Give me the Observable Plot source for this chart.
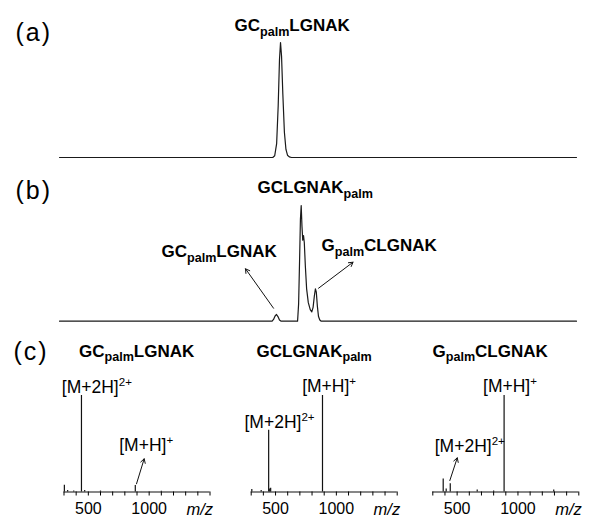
<!DOCTYPE html>
<html><head><meta charset="utf-8">
<script src="https://cdn.jsdelivr.net/npm/d3@7"></script>
<script src="https://cdn.jsdelivr.net/npm/@observablehq/plot@0.6"></script>
<style>
html,body{margin:0;padding:0;background:#fff;}
#fig{position:relative;width:600px;height:529px;overflow:hidden;}
#fig svg{position:absolute;}
</style></head><body><div id="fig"></div>
<script>
// ---------- DATA ----------
// (a) chromatogram: retention time (min) / relative intensity (%)
const timeA = [0, 16.50, 16.65, 16.80, 16.92, 17.02, 17.10, 17.18, 17.28, 17.40, 17.52, 17.64, 17.78, 17.95, 40];
const intA  = [0, 0, 1.5, 12, 45, 85, 100, 88, 55, 22, 7, 2, 0.5, 0, 0];
// (b) chromatogram
const timeB = [0, 16.45, 16.56, 16.68, 16.79, 16.90, 17.02, 17.15, 18.42, 18.50, 18.58, 18.64, 18.70, 18.76, 18.82, 18.88, 18.94, 19.02, 19.12, 19.25, 19.40, 19.52, 19.62, 19.72, 19.80, 19.87, 19.95, 20.04, 20.14, 20.25, 40];
const intB  = [0, 0, 1.5, 4.5, 5.8, 4, 1, 0, 0, 15, 55, 88, 100, 82, 70, 74, 68, 48, 28, 16, 10, 8, 12, 22, 28, 25, 13, 4, 1, 0, 0];
// labels
const labelsA = [{t: 13.54, v: 109.8, text: "GC_{palm}LGNAK"}];
const labelsB = [
  {t: 15.32, v: 110.4, text: "GCLGNAK_{palm}"},
  {t: 7.89,  v: 55.3,  text: "GC_{palm}LGNAK"},
  {t: 20.27, v: 60.5,  text: "G_{palm}CLGNAK"}
];
const arrowsB = [
  {x1: 16.56, y1: 11.2, x2: 14.39, y2: 45.3},
  {x1: 20.04, y1: 28.5, x2: 22.71, y2: 51.0}
];
// (c) mass spectra: m/z / relative intensity (%)
const mzC1  = [303, 330, 380, 443.5, 470, 600, 886, 1100];
const intC1 = [7, 1.5, 1, 100, 1.5, 1, 6.7, 0.8];
const mzC2  = [305, 382, 443.5, 452, 460, 886];
const intC2 = [2.5, 1.5, 64, 3, 4, 100];
const mzC3  = [385.5, 410, 443.5, 665, 800, 886, 1294];
const intC3 = [13.5, 3, 8.5, 2, 1, 100, 2];
const mzTicks = [300, 400, 500, 600, 700, 800, 900, 1000, 1100, 1200, 1300, 1400, 1500];
const mzTickLabels = [500, 1000];
const titlesC = ["GC_{palm}LGNAK", "GCLGNAK_{palm}", "G_{palm}CLGNAK"];
const titleMzC = [423, 343.5, 297.5];
const ionLabelsC1 = [{mz: 282, v: 103, text: "[M+2H]^{2+}"}, {mz: 754, v: 43, text: "[M+H]^{+}"}];
const ionLabelsC2 = [{mz: 245, v: 66.3, text: "[M+2H]^{2+}"}, {mz: 719, v: 103.4, text: "[M+H]^{+}"}];
const ionLabelsC3 = [{mz: 316, v: 41.2, text: "[M+2H]^{2+}"}, {mz: 713, v: 103.4, text: "[M+H]^{+}"}];
const arrowsC1 = [{x1: 896, y1: 8.5, x2: 959, y2: 34.4}];
const arrowsC2 = [];
const arrowsC3 = [{x1: 440, y1: 11.9, x2: 501, y2: 35.4}];
const panelLetters = ["(a)", "(b)", "(c)"];

// ---------- RENDER ----------
const font = "Liberation Sans, Arial, Helvetica, sans-serif";
const fig = document.getElementById("fig");
function place(svg, left, top) {
  svg.style.left = left + "px";
  svg.style.top = top + "px";
  fig.appendChild(svg);
}
function richText(root) {
  root.querySelectorAll("text").forEach(t => {
    const s = t.textContent;
    if (/^\([abc]\)$/.test(s)) t.style.letterSpacing = "2px";
    if (!/[_^]\{/.test(s)) return;
    const base = parseFloat(getComputedStyle(t).fontSize);
    const parts = [];
    const re = /([_^])\{([^}]*)\}|([^_^]+)/g;
    let m;
    while ((m = re.exec(s))) parts.push(m[3] != null ? {k: "", s: m[3]} : {k: m[1], s: m[2]});
    t.textContent = "";
    let shift = 0;
    for (const p of parts) {
      const ts = document.createElementNS("http://www.w3.org/2000/svg", "tspan");
      const target = p.k === "_" ? base * 0.28 : p.k === "^" ? -base * 0.4 : 0;
      const dy = target - shift;
      if (dy) ts.setAttribute("dy", dy);
      shift = target;
      if (p.k) ts.setAttribute("font-size", base * (p.k === "_" ? 0.74 : 0.66));
      ts.textContent = p.s;
      t.appendChild(ts);
    }
  });
}
const baseStyle = {background: "transparent", fontFamily: font, overflow: "visible", color: "#000"};

// (a)
const chromA = timeA.map((t, i) => ({t, v: intA[i]}));
place(Plot.plot({
  width: 600, height: 170, marginLeft: 59, marginRight: 24, marginTop: 42, marginBottom: 13,
  x: {domain: [0, 40], axis: null}, y: {domain: [0, 100], axis: null},
  style: baseStyle,
  marks: [
    Plot.line(chromA, {x: "t", y: "v", stroke: "#1a1a1a", strokeWidth: 1.2}),
    Plot.text(labelsA, {x: "t", y: "v", text: "text", textAnchor: "start", lineAnchor: "bottom", fontSize: 17, fontWeight: "bold"}),
    Plot.text([panelLetters[0]], {text: d => d, frameAnchor: "top-left", dx: -44, dy: -2, textAnchor: "start", lineAnchor: "bottom", fontSize: 25})
  ]
}), 0, 0);

// (b)
const chromB = timeB.map((t, i) => ({t, v: intB[i]}));
place(Plot.plot({
  width: 600, height: 170, marginLeft: 59, marginRight: 24, marginTop: 45, marginBottom: 9.3,
  x: {domain: [0, 40], axis: null}, y: {domain: [0, 100], axis: null},
  style: baseStyle,
  marks: [
    Plot.line(chromB, {x: "t", y: "v", stroke: "#1a1a1a", strokeWidth: 1.2}),
    Plot.arrow(arrowsB, {x1: "x1", y1: "y1", x2: "x2", y2: "y2", stroke: "#111", strokeWidth: 1, headLength: 7}),
    Plot.text(labelsB, {x: "t", y: "v", text: "text", textAnchor: "start", lineAnchor: "bottom", fontSize: 17, fontWeight: "bold"}),
    Plot.text([panelLetters[1]], {text: d => d, frameAnchor: "top-left", dx: -44, dy: -7, textAnchor: "start", lineAnchor: "bottom", fontSize: 25})
  ]
}), 0, 160);

// (c)
function spectrum(mz, inten, ions, arrows, title, titleMz, left, width, ml, mr, extra) {
  const data = mz.map((m, i) => ({mz: m, v: inten[i]}));
  const svg = Plot.plot({
    width, height: 199, marginLeft: ml, marginRight: mr, marginTop: 65, marginBottom: 37.5,
    x: {domain: [300, 1500], label: null}, y: {domain: [0, 100], axis: null},
    style: baseStyle,
    marks: [
      Plot.ruleY([0], {stroke: "#111", strokeWidth: 1.2}),
      Plot.ruleX(data, {x: "mz", y1: 0, y2: "v", stroke: "#111", strokeWidth: 1.2}),
      Plot.axisX({ticks: mzTicks, tickSize: 4, tickPadding: 7, label: null, fontSize: 16,
                  tickFormat: d => mzTickLabels.includes(d) ? String(d) : ""}),
      Plot.text(["m/z"], {text: d => d, x: 1500, frameAnchor: "bottom", dx: 3, dy: 22.5, textAnchor: "end", lineAnchor: "bottom", fontSize: 16.5, fontStyle: "italic"}),
      Plot.text(ions, {x: "mz", y: "v", text: "text", textAnchor: "start", lineAnchor: "bottom", fontSize: 17.5}),
      Plot.arrow(arrows, {x1: "x1", y1: "y1", x2: "x2", y2: "y2", stroke: "#111", strokeWidth: 1, headLength: 7}),
      Plot.text([title], {text: d => d, x: titleMz, y: 140.4, textAnchor: "start", lineAnchor: "bottom", fontSize: 17, fontWeight: "bold"}),
      ...extra
    ]
  });
  place(svg, left, 330);
}
spectrum(mzC1, intC1, ionLabelsC1, arrowsC1, titlesC[0], titleMzC[0], 0, 225, 63.5, 15.5,
  [Plot.text([panelLetters[2]], {text: d => d, frameAnchor: "top-left", dx: -50.5, dy: -36, textAnchor: "start", lineAnchor: "bottom", fontSize: 25})]);
spectrum(mzC2, intC2, ionLabelsC2, arrowsC2, titlesC[1], titleMzC[1], 227, 185, 23.7, 15.3, []);
spectrum(mzC3, intC3, ionLabelsC3, arrowsC3, titlesC[2], titleMzC[2], 409, 191, 23.3, 21.7, []);

richText(fig);
</script></body></html>
